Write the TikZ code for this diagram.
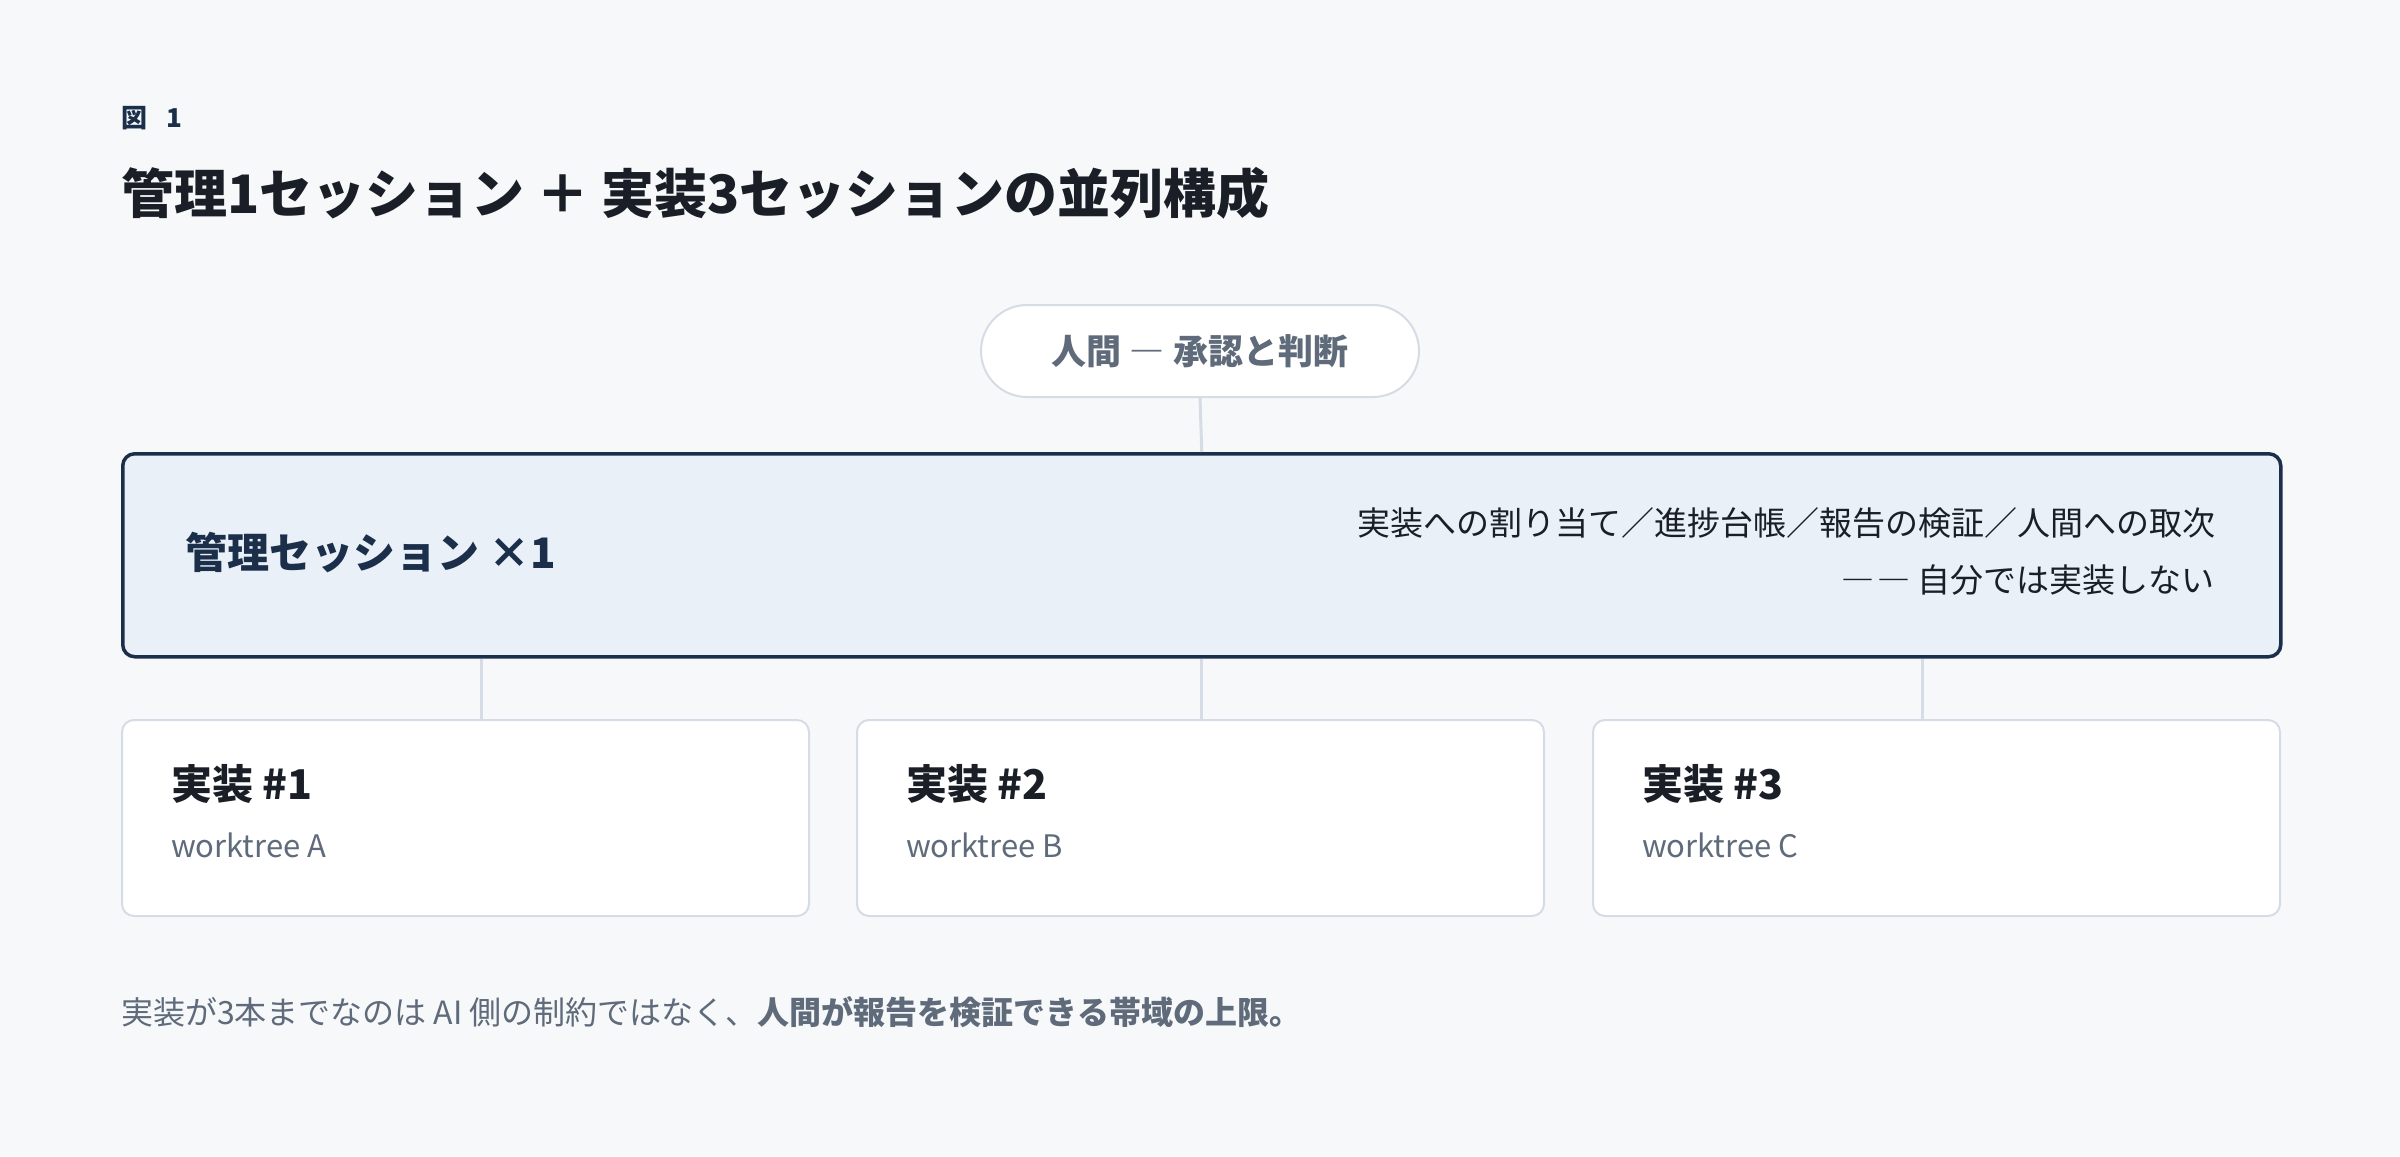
\documentclass[tikz,border=0pt]{standalone}
\usepackage{fontspec}
\setmainfont{Noto Sans CJK JP}
\usetikzlibrary{calc}
\definecolor{bg}{HTML}{F7F8FA}
\definecolor{navy}{HTML}{1B2F4B}
\definecolor{mgmtfill}{HTML}{EAF0F7}
\definecolor{lightborder}{HTML}{D5DCE5}
\definecolor{graytext}{HTML}{5F6B7A}
\definecolor{darktext}{HTML}{1A1F27}
\newcommand{\fs}[1]{\fontsize{#1}{#1}\selectfont}
\tikzset{
  txt/.style={inner sep=0pt, outer sep=0pt},
  pill/.style={draw=lightborder, fill=white, line width=2pt, rounded corners=46pt,
    minimum width=438pt, minimum height=92pt, inner sep=0pt, text=graytext,
    font=\fs{35}\bfseries},
  mgmtbox/.style={draw=navy, fill=mgmtfill, line width=3.5pt, rounded corners=12pt,
    minimum width=2158pt, minimum height=203pt, inner sep=0pt},
  implbox/.style={draw=lightborder, fill=white, line width=2pt, rounded corners=12pt,
    minimum width=687pt, minimum height=196pt, inner sep=0pt},
  conn/.style={draw=lightborder, line width=3pt},
  impltitle/.style={txt, anchor=west, text=darktext, font=\fs{41}\bfseries},
  implsub/.style={txt, anchor=west, text=graytext, font=\fs{31}},
}
\begin{document}
\begin{tikzpicture}[x=1pt, y=-1pt]
\useasboundingbox (0,0) rectangle (2400,1156);
\fill[bg] (0,0) rectangle (2400,1156);

\node[txt, anchor=west, text=navy, font=\fs{26}\bfseries] (fig) at (121,118) {図\hspace{20pt}1};
\node[txt, anchor=west, text=darktext, font=\fs{53}\bfseries] (title) at (121,193) {管理1セッション ＋ 実装3セッションの並列構成};

\node[pill] (human) at (1200,351) {人間 ― 承認と判断};

\node[mgmtbox, anchor=north west] (mgmt) at (121,452) {};
\node[txt, anchor=west, text=navy, font=\fs{42}\bfseries] (mgmttitle) at (185,553) {管理セッション ×1};
\node[txt, anchor=east, align=right, text=darktext, font=\fontsize{33}{57}\selectfont] (mgmtdesc) at (2215,551)
  {実装への割り当て／進捗台帳／報告の検証／人間への取次\\―\hspace{3pt}― 自分では実装しない};

\node[implbox, anchor=north west] (impl1) at (121,719) {};
\node[implbox, anchor=north west] (impl2) at (856,719) {};
\node[implbox, anchor=north west] (impl3) at (1592,719) {};

\node[impltitle] (t1) at (171,784) {実装 \#1};
\node[implsub] (s1) at (171,845) {worktree A};
\node[impltitle] (t2) at (906,784) {実装 \#2};
\node[implsub] (s2) at (906,845) {worktree B};
\node[impltitle] (t3) at (1642,784) {実装 \#3};
\node[implsub] (s3) at (1642,845) {worktree C};

\draw[conn] (human.south) -- (mgmt.north);
\coordinate (c1) at ($(mgmt.south west)!1/6!(mgmt.south east)$);
\coordinate (c2) at ($(mgmt.south west)!1/2!(mgmt.south east)$);
\coordinate (c3) at ($(mgmt.south west)!5/6!(mgmt.south east)$);
\draw[conn] (c1) -- (c1 |- impl1.north);
\draw[conn] (c2) -- (c2 |- impl2.north);
\draw[conn] (c3) -- (c3 |- impl3.north);

\node[txt, anchor=west, text=graytext, font=\fs{32}] (note) at (121,1012)
  {実装が3本までなのは AI 側の制約ではなく、{\bfseries 人間が報告を検証できる帯域の上限。}};
\end{tikzpicture}
\end{document}
